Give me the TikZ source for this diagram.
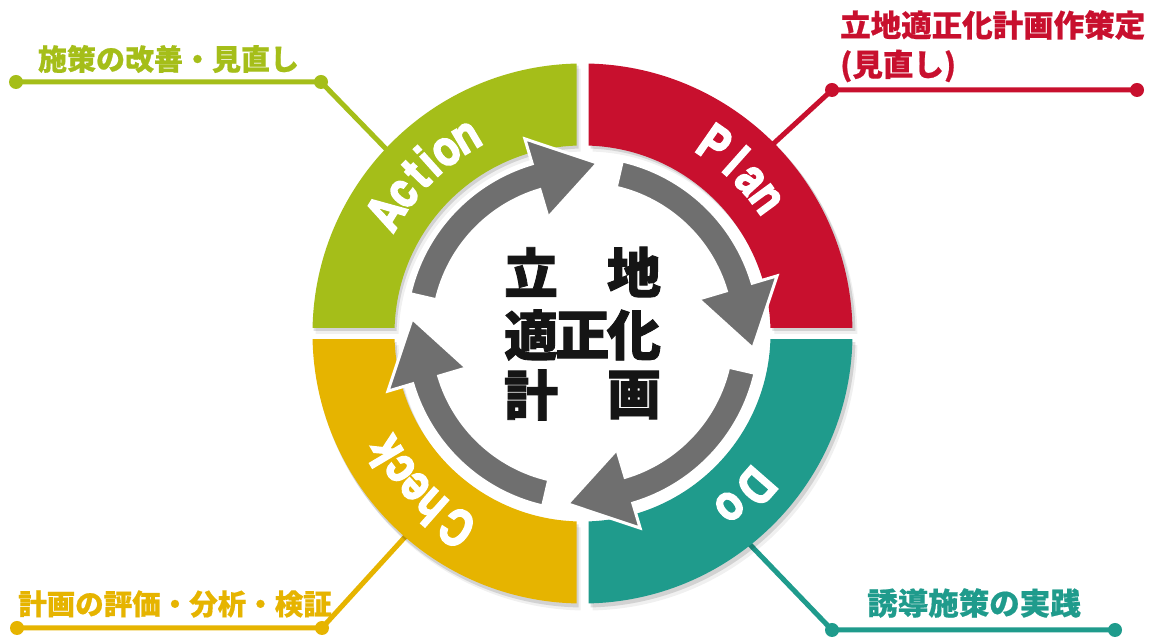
\documentclass[tikz,border=0pt]{standalone}
\usepackage{fontspec}
\newfontfamily\cjk{Noto Sans CJK JP}[BoldFeatures={FakeBold=0.6}]
\newfontfamily\cjkc{Noto Sans CJK JP}[BoldFeatures={FakeBold=1.6}]
\newfontfamily\ringfont{texgyreheroscn-bold.otf}[FakeBold=2.8]
\usetikzlibrary{calc}
\definecolor{actgreen}{HTML}{A5BE19}
\definecolor{planred}{HTML}{C8102E}
\definecolor{doteal}{HTML}{1F9B8C}
\definecolor{chkyellow}{HTML}{E6B400}
\definecolor{arrowgray}{HTML}{6F6F6F}
\definecolor{inkblack}{HTML}{151515}
\tikzset{
  dotnode/.style={circle, inner sep=0pt, minimum size=14pt, fill=#1},
  leader/.style={line width=5pt, draw=#1},
  lbltext/.style={text=#1, inner sep=0pt},
  ringletter/.style={font=\ringfont\fontsize{50}{50}\selectfont, text=white, inner sep=0pt, text height=35pt, text depth=0pt, anchor=center},
  centerchar/.style={font=\cjkc\bfseries\fontsize{54}{54}\selectfont, text=inkblack, inner sep=0pt, anchor=center},
  arrowshape/.style={fill=arrowgray, draw=white, line width=3pt, line join=miter},
}
\begin{document}
\begin{tikzpicture}[x=1pt,y=1pt]
\useasboundingbox (0,0) rectangle (1152,639);
\fill[white] (0,0) rectangle (1152,639);
\coordinate (C) at (582.5,305.5);

% ring join points (under the ring)
\begin{scope}[shift={(C)}]
  \coordinate (gr) at (137:250);
  \coordinate (rr) at (45:250);
  \coordinate (yr) at (229:250);
  \coordinate (tr) at (-52:250);
\end{scope}

% leader lines with dots
\node[dotnode=actgreen] (ga) at (16,557) {};
\node[dotnode=actgreen] (gb) at (321,557) {};
\draw[leader=actgreen] (ga.center) -- (gb.center) -- (gr);

\node[dotnode=planred] (ra) at (832,549) {};
\node[dotnode=planred] (rb) at (1137,549) {};
\draw[leader=planred] (rb.center) -- (ra.center) -- (rr);

\node[dotnode=chkyellow] (ya) at (17,11) {};
\node[dotnode=chkyellow] (yb) at (322,11) {};
\draw[leader=chkyellow] (ya.center) -- (yb.center) -- (yr);

\node[dotnode=doteal] (ta) at (832,9) {};
\node[dotnode=doteal] (tb) at (1115,9) {};
\draw[leader=doteal] (tb.center) -- (ta.center) -- (tr);

% label texts
\node[lbltext=actgreen, font=\cjk\bfseries\fontsize{29}{29}\selectfont] (gl) at (168.5,580) {施策の改善・見直し};
\node[lbltext=planred, font=\cjk\bfseries\fontsize{30.5}{30.5}\selectfont, anchor=west] (rl1) at (840,614) {立地適正化計画作策定};
\node[lbltext=planred, font=\cjk\bfseries\fontsize{30.5}{30.5}\selectfont, anchor=west] (rl2) at (840,573) {(見直し)};
\node[lbltext=chkyellow, font=\cjk\bfseries\fontsize{28.5}{28.5}\selectfont] (yl) at (175,35) {計画の評価・分析・検証};
\node[lbltext=doteal, font=\cjk\bfseries\fontsize{30.5}{30.5}\selectfont] (tl) at (974,36) {誘導施策の実践};

% ring
\begin{scope}[shift={(C)}]
  \foreach \sx/\sy in {-1/1, 1/1, -1/-1, 1/-1} {
    \begin{scope}[shift={(2,-3)}]
      \clip (\sx*6,\sy*6) rectangle (\sx*300,\sy*300);
      \fill[black, opacity=0.12, even odd rule] (0,0) circle[radius=271] (0,0) circle[radius=188];
    \end{scope}
    \begin{scope}[shift={(4,-6)}]
      \clip (\sx*6,\sy*6) rectangle (\sx*300,\sy*300);
      \fill[black, opacity=0.06, even odd rule] (0,0) circle[radius=271] (0,0) circle[radius=188];
    \end{scope}
  }
  \foreach \col/\sx/\sy in {actgreen/-1/1, planred/1/1, chkyellow/-1/-1, doteal/1/-1} {
    \begin{scope}
      \clip (\sx*6,\sy*6) rectangle (\sx*300,\sy*300);
      \fill[\col, even odd rule] (0,0) circle[radius=270] (0,0) circle[radius=188];
    \end{scope}
  }

  % gray cycle arrows
  \foreach \a in {0,90,180,270} {
    \path[arrowshape] ({\a+77}:177) arc[start angle={\a+77}, end angle={\a+16.5}, radius=177]
      -- ({\a+16.5}:203) -- ({\a-5}:171) -- ({\a+16.5}:121) -- ({\a+16.5}:150)
      arc[start angle={\a+16.5}, end angle={\a+77}, radius=150] -- cycle;
  }

  % ring words
  \foreach \ch/\ang [count=\i] in {A/148.4, c/142, t/136.2, i/131.9, o/126.8, n/120.6}
    \node[ringletter, rotate=\ang-90] (act\i) at (\ang:231) {\ch};
  \foreach \ch/\ang [count=\i] in {P/55.2, l/48.3, a/42.4, n/36.2}
    \node[ringletter, rotate=\ang-90] (pln\i) at (\ang:231) {\ch};
  \foreach \ch/\ang [count=\i] in {D/-41.2, o/-49.6}
    \node[ringletter, rotate=\ang-90] (do\i) at (\ang:231) {\ch};
  \foreach \ch/\ang [count=\i] in {C/237.1, h/228.6, e/222.4, c/216.6, k/210.7}
    \node[ringletter, rotate=\ang-90] (chk\i) at (\ang:231) {\ch};

  % center title
  \node[centerchar] (c1) at (-51.5,61.5) {立};
  \node[centerchar] (c2) at (51.5,61.5) {地};
  \node[centerchar] (c3) at (-51.5,-1.5) {適};
  \node[centerchar] (c4) at (0,-1.5) {正};
  \node[centerchar] (c5) at (51.5,-1.5) {化};
  \node[centerchar] (c6) at (-51.5,-61.5) {計};
  \node[centerchar] (c7) at (51.5,-61.5) {画};
\end{scope}
\end{tikzpicture}
\end{document}
